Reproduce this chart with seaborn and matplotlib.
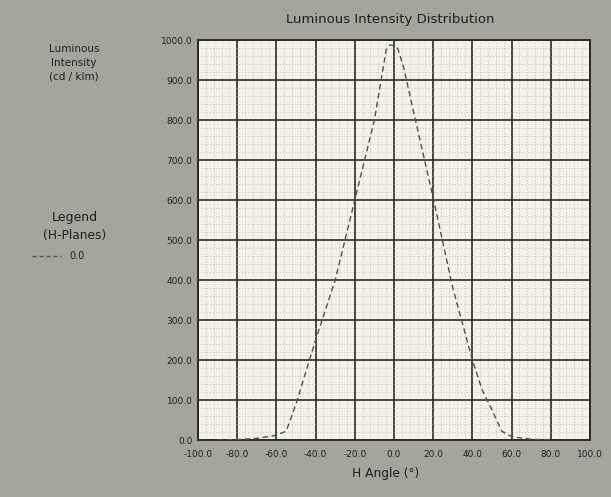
import matplotlib
matplotlib.use("Agg")
import matplotlib.pyplot as plt
import numpy as np
import pandas as pd
import seaborn as sns

# Luminous intensity vs. horizontal angle (H-plane 0.0)
h_angle = [-90, -80, -70, -60, -55, -50, -40, -30, -20, -10, -4, -2, 0, 2, 5,
           10, 20, 30, 40, 45, 50, 55, 60, 70, 80]
intensity = [0, 1, 4, 12, 22, 90, 250, 400, 600, 800, 975, 988, 986, 978, 930,
             820, 605, 380, 200, 125, 75, 22, 8, 2, 0]

x_ticks = [-100, -80, -60, -40, -20, 0, 20, 40, 60, 80, 100]
y_ticks = [0, 100, 200, 300, 400, 500, 600, 700, 800, 900, 1000]

title_text = "Luminous Intensity Distribution"
y_title = "Luminous\nIntensity\n(cd / klm)"
x_title = "H Angle (°)"
legend_title = ["Legend", "(H-Planes)"]
series_name = "0.0"

sns.set_theme(style="white")
plt.rcParams["font.family"] = ["DejaVu Sans"]

bg = "#a5a59e"
ink = "#1e1e1e"
fig = plt.figure(figsize=(6.11, 4.97), dpi=100, facecolor=bg)
ax = fig.add_axes([198 / 611, 1 - 440 / 497, 392 / 611, 400 / 497])
ax.set_facecolor("#f3f1e8")

df = pd.DataFrame({"H Angle": h_angle, "Intensity": intensity})
sns.lineplot(data=df, x="H Angle", y="Intensity", ax=ax, color="#505050",
             linewidth=1.0, linestyle=(0, (4, 2.5)), zorder=5)

ax.set_xlim(-100, 100)
ax.set_ylim(0, 1000)
ax.set_xticks(x_ticks)
ax.set_yticks(y_ticks)
ax.set_xticklabels([f"{v:.1f}" for v in x_ticks], fontsize=6.5, color=ink)
ax.set_yticklabels([f"{v:.1f}" for v in y_ticks], fontsize=6.5, color=ink)
ax.set_xticks(np.arange(-100, 101, 4), minor=True)
ax.set_yticks(np.arange(0, 1001, 20), minor=True)
ax.tick_params(axis="x", which="both", length=0, pad=7)
ax.tick_params(axis="y", which="both", length=0, pad=4)
ax.grid(True, which="major", color="#2a2a2a", linewidth=1.2)
ax.grid(True, which="minor", color="#b0b0aa", linewidth=0.6, linestyle=(0, (1, 2.5)))
ax.set_axisbelow(True)
for s in ax.spines.values():
    s.set_color("#2a2a2a")
    s.set_linewidth(1.4)

ax.set_xlabel("")
ax.set_ylabel("")
fig.text(390 / 611, 1 - 20 / 497, title_text, ha="center", va="center",
         fontsize=9.5, color=ink)
fig.text(386 / 611, 1 - 473 / 497, x_title, ha="center", va="center",
         fontsize=8.8, color=ink)
fig.text(74 / 611, 1 - 63 / 497, y_title, ha="center", va="center",
         fontsize=7.5, color=ink, linespacing=1.45)
fig.text(75 / 611, 1 - 218 / 497, legend_title[0], ha="center", va="center",
         fontsize=9, color=ink)
fig.text(75 / 611, 1 - 236 / 497, legend_title[1], ha="center", va="center",
         fontsize=8.8, color=ink)
fig.add_artist(plt.Line2D([32 / 611, 61 / 611], [1 - 256 / 497] * 2,
                          color="#505050", linewidth=1.0, linestyle=(0, (3, 2))))
fig.text(77 / 611, 1 - 256 / 497, series_name, ha="center", va="center",
         fontsize=7, color=ink)

fig.savefig("out.png", dpi=100, facecolor=bg)
